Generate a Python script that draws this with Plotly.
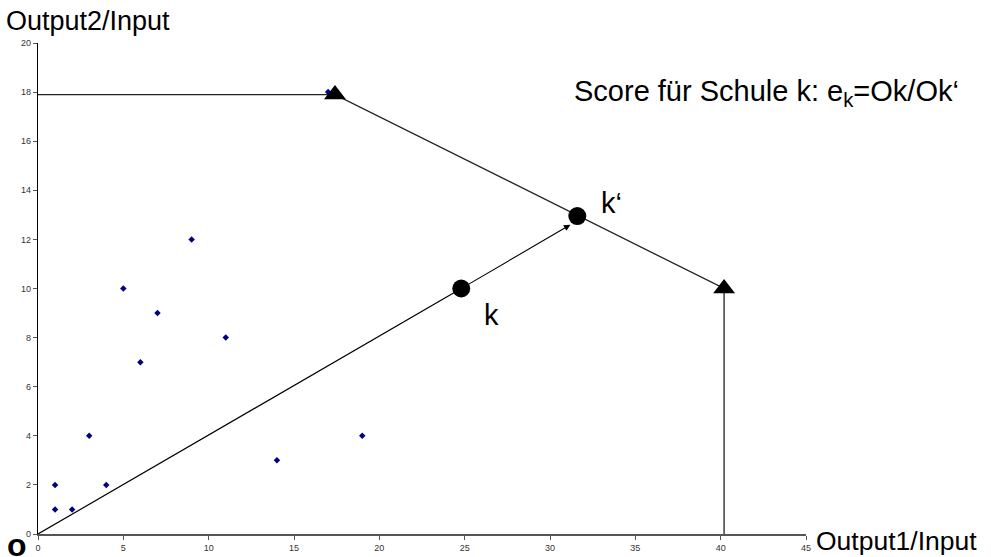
import plotly.graph_objects as go

# Data
schools_x = [1, 1, 2, 3, 4, 5, 6, 7, 9, 11, 14, 17, 19]
schools_y = [1, 2, 1, 4, 2, 10, 7, 9, 12, 8, 3, 18, 4]

frontier_x = [0, 17.4, 40.2, 40.2]
frontier_y = [17.9, 17.9, 10, 0]

corner_x = [17.4, 40.2]
corner_y = [17.9, 10]

k_point = (24.8, 10)
kprime_point = (31.6, 12.95)
arrow_end = (31.2, 12.6)

x_ticks = [0, 5, 10, 15, 20, 25, 30, 35, 40, 45]
y_ticks = [0, 2, 4, 6, 8, 10, 12, 14, 16, 18, 20]

font_family = "Liberation Sans, Arial, sans-serif"

fig = go.Figure()

# Frontier line
fig.add_trace(go.Scatter(x=frontier_x, y=frontier_y, mode="lines",
                         line=dict(color="#222222", width=1.3),
                         hoverinfo="skip", showlegend=False))
# Line from origin to k
fig.add_trace(go.Scatter(x=[0, k_point[0]], y=[0, k_point[1]], mode="lines",
                         line=dict(color="black", width=1.2),
                         hoverinfo="skip", showlegend=False))

# School data points
fig.add_trace(go.Scatter(x=schools_x, y=schools_y, mode="markers",
                         marker=dict(symbol="diamond", size=5, color="#000080"),
                         showlegend=False))

# Corner triangles
fig.add_trace(go.Scatter(x=corner_x, y=corner_y, mode="markers",
                         marker=dict(symbol="triangle-up", size=19, color="black"),
                         showlegend=False))

# k and k' circles
fig.add_trace(go.Scatter(x=[k_point[0], kprime_point[0]], y=[k_point[1], kprime_point[1]],
                         mode="markers",
                         marker=dict(symbol="circle", size=18, color="black"),
                         showlegend=False))

# Arrow from k to k'
fig.add_annotation(x=arrow_end[0], y=arrow_end[1], ax=k_point[0], ay=k_point[1],
                   xref="x", yref="y", axref="x", ayref="y",
                   showarrow=True, arrowhead=2, arrowsize=1.2, arrowwidth=1.1,
                   arrowcolor="black", text="")

# Labels
fig.add_annotation(x=kprime_point[0], y=kprime_point[1], xref="x", yref="y",
                   text="k‘", showarrow=False, xshift=34, yshift=13,
                   font=dict(family=font_family, size=29, color="black"))
fig.add_annotation(x=k_point[0], y=k_point[1], xref="x", yref="y",
                   text="k", showarrow=False, xshift=30, yshift=-26,
                   font=dict(family=font_family, size=29, color="black"))
fig.add_annotation(x=961, y=93, xref="paper", yref="paper",
                   text="Score für Schule k: e<sub>k</sub>=Ok/Ok‘", showarrow=False,
                   xanchor="right", yanchor="middle",
                   font=dict(family=font_family, size=29, color="black"))

fig.add_annotation(x=4, y=21, xref="paper", yref="paper",
                   text="Output2/Input", showarrow=False,
                   xanchor="left", yanchor="middle",
                   font=dict(family=font_family, size=27, color="black"))
fig.add_annotation(x=814, y=541, xref="paper", yref="paper",
                   text="Output1/Input", showarrow=False,
                   xanchor="left", yanchor="middle",
                   font=dict(family=font_family, size=26.5, color="black"))
fig.add_annotation(x=5, y=545, xref="paper", yref="paper",
                   text="<b>o</b>", showarrow=False,
                   xanchor="left", yanchor="middle",
                   font=dict(family=font_family, size=32, color="black"))

# Convert pixel-positioned paper annotations into paper coordinates
W, H = 991, 557
L, R, T, B = 38, 185, 43, 23
pw, ph = W - L - R, H - T - B
for ann in fig.layout.annotations:
    if ann.xref == "paper":
        ann.x = (ann.x - L) / pw
        ann.y = 1 - (ann.y - T) / ph

fig.update_layout(
    width=W, height=H,
    margin=dict(l=L, r=R, t=T, b=B, pad=0),
    paper_bgcolor="white", plot_bgcolor="white",
    font=dict(family=font_family, color="#333333"),
    showlegend=False,
)
fig.update_xaxes(range=[0, 45], tickvals=x_ticks, ticktext=[str(v) for v in x_ticks],
                 automargin=False,
                 showgrid=False, zeroline=False, showline=True, linecolor="#555555",
                 linewidth=1.5, ticks="outside", ticklen=4, tickcolor="#555555",
                 tickfont=dict(size=9, color="#333333", family=font_family))
fig.update_yaxes(range=[0, 20], tickvals=y_ticks, ticktext=[str(v) for v in y_ticks],
                 automargin=False,
                 showgrid=False, zeroline=False, showline=True, linecolor="black",
                 linewidth=1.2, ticks="outside", ticklen=4, tickcolor="#555555",
                 tickfont=dict(size=9, color="#333333", family=font_family))

fig.write_html("out.html", config={"displayModeBar": False},
               post_script="document.body.style.margin='0';document.body.style.overflow='hidden';")
